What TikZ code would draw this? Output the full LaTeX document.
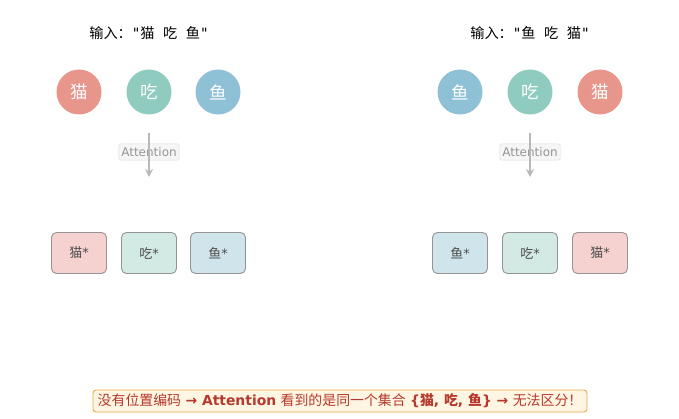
\documentclass[tikz,border=0pt]{standalone}
\usepackage{fontspec}
\setmainfont{DejaVu Sans}
\setmonofont{DejaVu Sans Mono}
\newfontfamily\cjk{Noto Sans CJK SC}
\usetikzlibrary{arrows.meta}
\definecolor{catc}{HTML}{E8968B}
\definecolor{eatc}{HTML}{8FCBBE}
\definecolor{fishc}{HTML}{8EC0D6}
\definecolor{catb}{HTML}{F5D1D0}
\definecolor{eatb}{HTML}{D3EAE4}
\definecolor{fishb}{HTML}{D0E4EC}
\definecolor{redtxt}{HTML}{B5392D}
\definecolor{notefill}{HTML}{FEF6E2}
\definecolor{noteedge}{HTML}{E8A94A}
\tikzset{
  tok/.style={circle, minimum size=45pt, inner sep=0pt, text=white, font=\fontsize{17.5}{19}\selectfont\cjk},
  outbox/.style={rectangle, rounded corners=5pt, draw=black!42, line width=0.9pt, minimum width=55pt, minimum height=41pt, inner sep=0pt, text=black!70, font=\fontsize{13}{15}\selectfont},
  attlbl/.style={rectangle, rounded corners=2pt, fill=black!4, fill opacity=0.85, text opacity=1, draw=black!15, text=black!42, inner xsep=2.5pt, inner ysep=3.5pt, font=\fontsize{12}{14}\selectfont},
  arr/.style={draw=black!28, line width=1.8pt, -{Stealth[length=8pt,width=8pt]}},
  ttl/.style={font=\fontsize{14.2}{16}\selectfont\ttfamily, text=black},
  note/.style={rectangle, rounded corners=3pt, fill=notefill, draw=noteedge, line width=0.9pt, text=redtxt, minimum width=494pt, minimum height=22pt, inner xsep=1pt, inner ysep=2pt, font=\fontsize{13.9}{16}\selectfont}
}
\begin{document}
\begin{tikzpicture}[x=1pt,y=-1pt]
\useasboundingbox (0,0) rectangle (679,419);
% left group
\node[ttl] (t1) at (149,33) {{\cjk 输入：}"{\cjk 猫} {\cjk 吃} {\cjk 鱼}"};
\node[tok, fill=catc] (l1) at (79,92) {猫};
\node[tok, fill=eatc] (l2) at (149,92) {吃};
\node[tok, fill=fishc] (l3) at (218,92) {鱼};
\node[attlbl] (att1) at (149,152) {Attention};
\coordinate (a1s) at (149,133);
\coordinate (a1e) at (149,177);
\draw[arr] (a1s) -- (a1e);
\node[outbox, fill=catb] (o1) at (79,253) {{\cjk 猫}*};
\node[outbox, fill=eatb] (o2) at (149,253) {{\cjk 吃}*};
\node[outbox, fill=fishb] (o3) at (218,253) {{\cjk 鱼}*};
% right group
\node[ttl] (t2) at (530,33) {{\cjk 输入：}"{\cjk 鱼} {\cjk 吃} {\cjk 猫}"};
\node[tok, fill=fishc] (r1) at (460,92) {鱼};
\node[tok, fill=eatc] (r2) at (530,92) {吃};
\node[tok, fill=catc] (r3) at (600,92) {猫};
\node[attlbl] (att2) at (530,152) {Attention};
\coordinate (a2s) at (530,133);
\coordinate (a2e) at (530,177);
\draw[arr] (a2s) -- (a2e);
\node[outbox, fill=fishb] (p1) at (460,253) {{\cjk 鱼}*};
\node[outbox, fill=eatb] (p2) at (530,253) {{\cjk 吃}*};
\node[outbox, fill=catb] (p3) at (600,253) {{\cjk 猫}*};
% note
\node[note] (n) at (340,401) {{\cjk 没有位置编码} \textbf{→ Attention} {\cjk 看到的是同一个集合} \textbf{\{{\cjk 猫}, {\cjk 吃}, {\cjk 鱼}\} →} {\cjk 无法区分！}};
\end{tikzpicture}
\end{document}
